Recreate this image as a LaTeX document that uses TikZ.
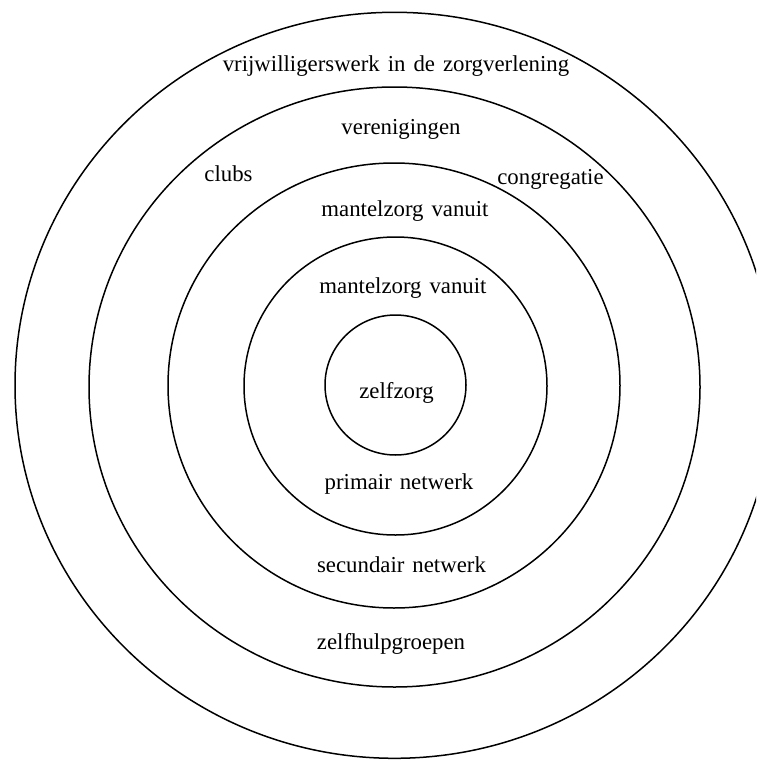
\documentclass[tikz,border=0pt]{standalone}
\usepackage{fontspec}
\setmainfont[WordSpace={1.4}]{Liberation Serif}
\usetikzlibrary{shapes.geometric}
\begin{document}
\begin{tikzpicture}[x=1pt,y=-1pt,
  ring/.style={draw=black, line width=1.5pt, ellipse, inner sep=0pt, fill=none},
  lbl/.style={anchor=base, inner sep=0pt, font=\fontsize{22.8}{26}\selectfont}]
\useasboundingbox (0,0) rectangle (756,760);
\clip (0,0) rectangle (756,760);
\fill[white] (0,0) rectangle (756,760);
% rings
\node[ring, minimum width=759pt, minimum height=746pt] (outer) at (394.5,385.3) {};
\node[ring, minimum width=611pt, minimum height=600pt] (second) at (394.5,387) {};
\node[ring, minimum width=452pt, minimum height=445pt] (third) at (394,385.5) {};
\node[ring, minimum width=303pt, minimum height=298pt] (fourth) at (395.5,386) {};
\node[ring, minimum width=141pt, minimum height=140pt] (inner) at (395.5,385) {};
% labels
\node[lbl] (vrij) at (396,71) {vrijwilligerswerk in de zorgverlening};
\node[lbl] (veren) at (401,134) {verenigingen};
\node[lbl] (clubs) at (228.5,181) {clubs};
\node[lbl] (congr) at (550.5,184) {congregatie};
\node[lbl] (mant1) at (405,216) {mantelzorg vanuit};
\node[lbl] (mant2) at (403,293) {mantelzorg vanuit};
\node[lbl] (zelf) at (396.5,398) {zelfzorg};
\node[lbl] (prim) at (399,489) {primair netwerk};
\node[lbl] (sec) at (401.5,572) {secundair netwerk};
\node[lbl] (hulp) at (391,649) {zelfhulpgroepen};
\end{tikzpicture}
\end{document}
